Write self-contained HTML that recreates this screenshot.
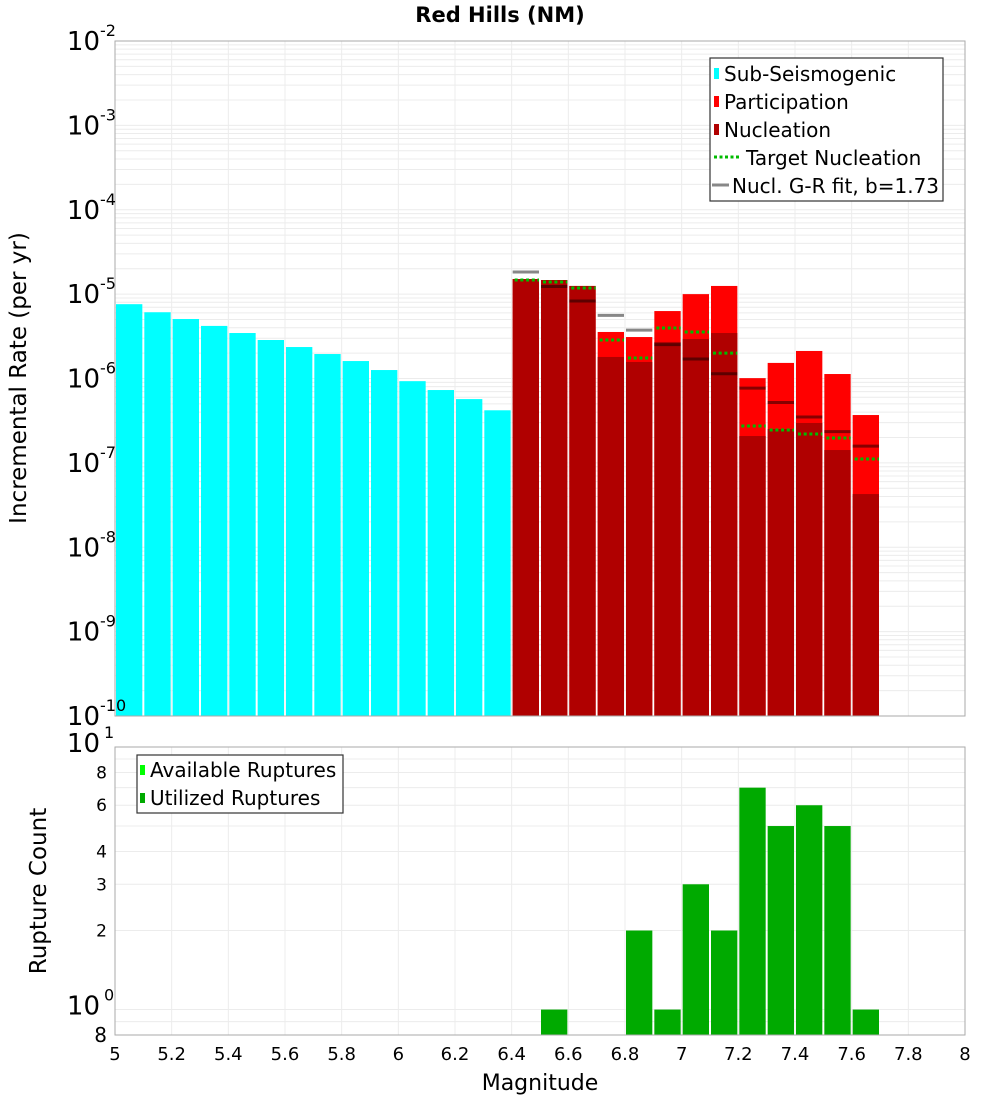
<!DOCTYPE html>
<html><head><meta charset="utf-8"><style>
body{margin:0;background:#fff;}
svg{display:block;font-family:"DejaVu Sans","Liberation Sans",sans-serif;}
</style></head><body>
<svg id="chart" width="1000" height="1100" viewBox="0 0 1000 1100" xmlns="http://www.w3.org/2000/svg">
<text x="500" y="22" text-anchor="middle" font-size="21" font-weight="bold">Red Hills (NM)</text>
<g id="topg"></g>
<g id="botg"></g>
<text transform="translate(26,378) rotate(-90)" text-anchor="middle" font-size="23">Incremental Rate (per yr)</text>
<text transform="translate(46,891) rotate(-90)" text-anchor="middle" font-size="23">Rupture Count</text>
<text x="540" y="1090" text-anchor="middle" font-size="22">Magnitude</text>
<g>
<rect x="710" y="58" width="233" height="143" fill="#fff" stroke="#333" stroke-width="1.2"/>
<rect x="714" y="68" width="5" height="11" fill="#00ffff"/>
<text x="724" y="81" font-size="20">Sub-Seismogenic</text>
<rect x="714" y="96" width="5" height="11" fill="#ff0000"/>
<text x="724" y="109" font-size="20">Participation</text>
<rect x="714" y="124" width="5" height="11" fill="#b00000"/>
<text x="724" y="137" font-size="20">Nucleation</text>
<line x1="714" y1="157" x2="739" y2="157" stroke="#00bb00" stroke-width="3" stroke-dasharray="3,2.5"/>
<text x="746" y="165" font-size="20">Target Nucleation</text>
<line x1="712" y1="185" x2="729" y2="185" stroke="#888" stroke-width="3"/>
<text x="732" y="193" font-size="20">Nucl. G-R fit, b=1.73</text>
</g>
<g>
<rect x="137" y="755" width="206" height="58" fill="#fff" stroke="#333" stroke-width="1.2"/>
<rect x="140" y="765" width="5" height="10" fill="#00ff00"/>
<text x="150" y="777" font-size="20">Available Ruptures</text>
<rect x="140" y="793" width="5" height="10" fill="#00aa00"/>
<text x="150" y="805" font-size="20">Utilized Ruptures</text>
</g>
</svg>
<script>
const subMags=[5.05,5.15,5.25,5.35,5.45,5.55,5.65,5.75,5.85,5.95,6.05,6.15,6.25,6.35];
const subRates=[7.6e-6,6.1e-6,5.07e-6,4.2e-6,3.46e-6,2.86e-6,2.36e-6,1.95e-6,1.61e-6,1.26e-6,9.3e-7,7.3e-7,5.7e-7,4.2e-7];
const supMags=[6.45,6.55,6.65,6.75,6.85,6.95,7.05,7.15,7.25,7.35,7.45,7.55,7.65];
const partRates=[1.51e-5,1.47e-5,1.25e-5,3.56e-6,3.1e-6,6.3e-6,1.0e-5,1.25e-5,1.01e-6,1.53e-6,2.12e-6,1.13e-6,3.69e-7];
const nuclRates=[1.51e-5,1.47e-5,1.25e-5,1.8e-6,1.57e-6,2.71e-6,2.94e-6,3.46e-6,2.08e-7,2.52e-7,2.97e-7,1.42e-7,4.27e-8];
const targetRates=[1.47e-5,1.39e-5,1.18e-5,2.86e-6,1.75e-6,3.97e-6,3.56e-6,2.0e-6,2.74e-7,2.45e-7,2.2e-7,1.97e-7,1.11e-7];
const grRates=[1.83e-5,1.23e-5,8.3e-6,5.6e-6,3.75e-6,2.52e-6,1.7e-6,1.14e-6,7.7e-7,5.2e-7,3.5e-7,2.35e-7,1.58e-7];
const countMags=[6.55,6.85,6.95,7.05,7.15,7.25,7.35,7.45,7.55,7.65];
const countVals=[1,2,1,3,2,7,5,6,5,1];
const xTicks=["5","5.2","5.4","5.6","5.8","6","6.2","6.4","6.6","6.8","7","7.2","7.4","7.6","7.8","8"];
const yExps=[-2,-3,-4,-5,-6,-7,-8,-9,-10];
const countTickVals=[2,3,4,6,8];

const NS="http://www.w3.org/2000/svg";
const X0=115,X1=965,XMIN=5,XMAX=8;
const xs=m=>X0+(m-XMIN)/(XMAX-XMIN)*(X1-X0);
const T0=41,T1=716;
const yt=v=>T0+(-2-Math.log10(v))/8*(T1-T0);
const B0=747,B1=1035,BMAX=1,BMIN=Math.log10(0.8);
const yb=v=>B0+(BMAX-Math.log10(v))/(BMAX-BMIN)*(B1-B0);
function mk(parent,tag,attrs,text){const e=document.createElementNS(NS,tag);for(const k in attrs)e.setAttribute(k,attrs[k]);if(text!==undefined)e.textContent=text;parent.appendChild(e);return e;}
const topG=document.getElementById('topg'),botG=document.getElementById('botg');
const svgEl=document.getElementById('chart');
const bw=(xs(5.1)-xs(5))-2;

for(let e=-10;e<-2;e++){for(let k=1;k<10;k++){const y=yt(k*Math.pow(10,e));
 const g=mk(topG,'line',{x1:X0,x2:X1,y1:y,y2:y,stroke:'#ececec','stroke-width':1});
 
 }}
xTicks.forEach(t=>{const x=xs(parseFloat(t));
 const g=mk(topG,'line',{x1:x,x2:x,y1:T0,y2:T1,stroke:'#ececec'});
 
 
 const g2=mk(botG,'line',{x1:x,x2:x,y1:B0,y2:B1,stroke:'#ececec'});
 
 });
[0.8,0.9,1,2,3,4,5,6,7,8,9,10].forEach(v=>{const y=yb(v);
 const g=mk(botG,'line',{x1:X0,x2:X1,y1:y,y2:y,stroke:'#ececec'});
 
 });

subMags.forEach((m,i)=>{const y=yt(subRates[i]);
 const r=mk(topG,'rect',{x:xs(m)-bw/2,y:y,width:bw,height:T1-y,fill:'#00ffff'});
 
 });
supMags.forEach((m,i)=>{
 const y=yt(partRates[i]);
 const r=mk(topG,'rect',{x:xs(m)-bw/2,y:y,width:bw,height:T1-y,fill:'#ff0000'});
 
 
 const y2=yt(nuclRates[i]);
 const r2=mk(topG,'rect',{x:xs(m)-bw/2,y:y2,width:bw,height:T1-y2,fill:'#b00000'});
 
 });
supMags.forEach((m,i)=>{
 const y=yt(grRates[i]);
 const l=mk(topG,'line',{x1:xs(m)-bw/2,x2:xs(m)+bw/2,y1:y,y2:y,stroke:'rgba(0,0,0,0.47)','stroke-width':3});
 
 
 const yy=yt(targetRates[i]);
 const t=mk(topG,'line',{x1:xs(m)-bw/2+2,x2:xs(m)+bw/2,y1:yy,y2:yy,stroke:'#00bb00','stroke-width':3,'stroke-dasharray':'3,2.7'});
 
 });
countMags.forEach((m,i)=>{const y=yb(countVals[i]);
 const r=mk(botG,'rect',{x:xs(m)-bw/2,y:y,width:bw,height:B1-y,fill:'#00aa00'});
 
 });

const f1=mk(topG,'rect',{x:X0,y:T0,width:X1-X0,height:T1-T0,fill:'none',stroke:'#aaa','stroke-width':1});


const f2=mk(botG,'rect',{x:X0,y:B0,width:X1-X0,height:B1-B0,fill:'none',stroke:'#aaa','stroke-width':1});



yExps.forEach(e=>{const y=yt(Math.pow(10,e));
 const t=mk(svgEl,'text',{x:100,y:y+9,'text-anchor':'end','font-size':26},'10');
 
 
 const s=mk(svgEl,'text',{x:100,y:y-5,'font-size':16},String(e));
 
 });
countTickVals.forEach(v=>{const t=mk(svgEl,'text',{x:107,y:yb(v)+6,'text-anchor':'end','font-size':17},String(v));
 
 });
[[0.8,'8'],[1,'0'],[10,'1']].forEach(([v,lab])=>{const y=yb(v);
 if(lab==='8'){const t=mk(svgEl,'text',{x:107,y:y+7,'text-anchor':'end','font-size':20},'8');
  
  return;}
 const t=mk(svgEl,'text',{x:100,y:y+5,'text-anchor':'end','font-size':26},'10');
 
 
 const s=mk(svgEl,'text',{x:104,y:y-9,'font-size':16},lab);
 
 });
xTicks.forEach(t=>{const x=xs(parseFloat(t));
 const e=mk(svgEl,'text',{x:x,y:1060,'text-anchor':'middle','font-size':18},t);
 
 });
</script>
</body></html>
